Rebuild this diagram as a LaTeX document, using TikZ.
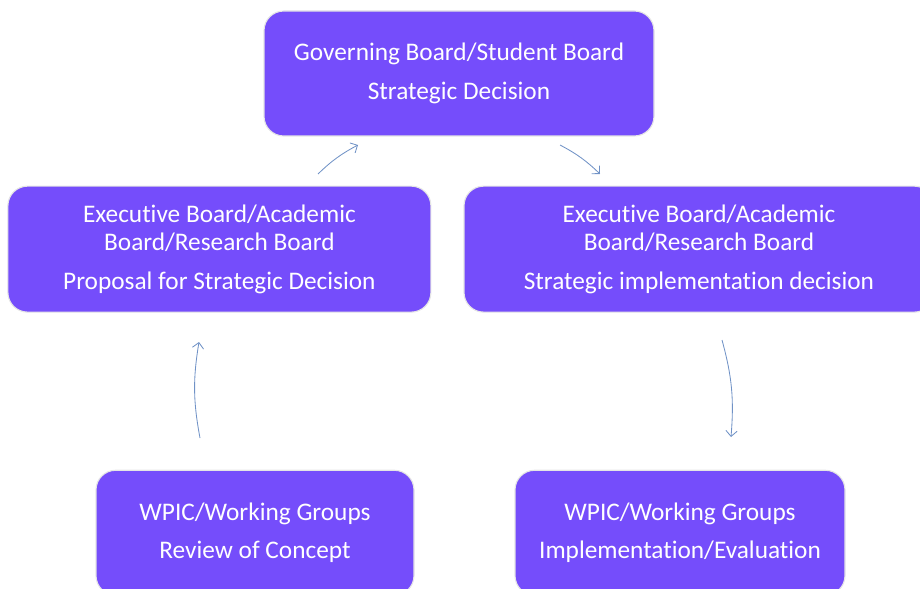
\documentclass[tikz,border=0pt]{standalone}
\usepackage{fontspec}
\setmainfont{Carlito}[Ligatures = NoCommon]
\usepackage{xcolor}
\usepackage{tikz}
\usetikzlibrary{positioning, arrows.meta}

\definecolor{boardfill}{RGB}{117,77,251}
\definecolor{flowline}{RGB}{112,146,198}

\begin{document}
\begin{tikzpicture}[node distance = 1.225cm, >={Straight Barb[length = 4pt, width = 8pt]}]
            \tikzstyle{board} = [rectangle, rounded corners = 14pt, fill = boardfill, draw = gray!20, line width = 0.8pt, text = white, align = center, font = \fontsize{18pt}{20pt}\selectfont]
            \tikzstyle{flow} = [->, flowline, line width = 0.6pt]
            \useasboundingbox (0, 0) rectangle (23, -14.725);

            \node [board, minimum width = 9.75cm, minimum height = 3.125cm] (B0) at (11.475, -1.8375) {Governing Board/Student Board\\[7.7pt]Strategic Decision};

            \node [board, minimum width = 10.575cm, minimum height = 3.15cm, below = of B0, xshift = -5.99cm] (B1) {Executive Board/Academic\\Board/Research Board\\[7.7pt]Proposal for Strategic Decision};
            \node [board, minimum width = 11.75cm, minimum height = 3.15cm, below = of B0, xshift = 6cm] (B2) {Executive Board/Academic\\Board/Research Board\\[7.7pt]Strategic implementation decision};

            \node [board, minimum width = 7.95cm, minimum height = 3.125cm, below = 3.925cm of B1, xshift = 0.89cm] (B3) {WPIC/Working Groups\\[7.7pt]Review of Concept};
            \node [board, minimum width = 8.25cm, minimum height = 3.125cm, below = 3.925cm of B2, xshift = -0.475cm] (B4) {WPIC/Working Groups\\[7.7pt]Implementation/Evaluation};

            \coordinate (A0) at (7.95, -4.35);
            \coordinate (A1) at (8.95, -3.625);
            \coordinate (A2) at (14, -3.625);
            \coordinate (A3) at (15, -4.35);
            \coordinate (A4) at (5, -10.95);
            \coordinate (A5) at (4.975, -8.55);
            \coordinate (A6) at (18.05, -8.5);
            \coordinate (A7) at (18.275, -10.925);

            \draw [flow] (A0) to [bend left = 8] (A1);
            \draw [flow] (A2) to [bend left = 8] (A3);
            \draw [flow] (A4) to [bend left = 10] (A5);
            \draw [flow] (A6) to [bend left = 10] (A7);
        \end{tikzpicture}
\end{document}
